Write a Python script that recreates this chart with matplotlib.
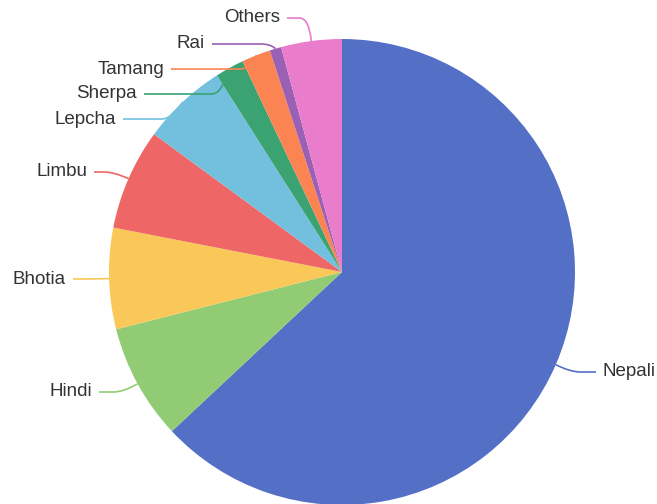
import numpy as np
import matplotlib
matplotlib.use("Agg")
import matplotlib.pyplot as plt
from matplotlib.path import Path
from matplotlib.patches import PathPatch

# share of speakers (%)
languages = ["Nepali", "Hindi", "Bhotia", "Limbu", "Lepcha", "Sherpa", "Tamang", "Rai", "Others"]
shares = [62.9, 8.0, 7.0, 7.0, 5.9, 2.0, 2.0, 0.8, 4.2]
colors = ["#5470c6", "#91cc75", "#fac858", "#ee6666", "#73c0de",
          "#3ba272", "#fc8452", "#9a60b4", "#ea7ccc"]

# label layout after echarts-style overlap shifting (pixels, y from the top)
label_rows = [372, 392, 279, 172, 119, 94, 69, 44, 18]
label_cols = [603, 92, 66, 87, 116, 137, 164, 205, 280]

W, H = 657, 504
cx, cy, R = 342, 232, 233

plt.rcParams['font.family'] = ['Liberation Sans', 'DejaVu Sans']

fig = plt.figure(figsize=(W / 100, H / 100), dpi=100)
ax = fig.add_axes([0, 0, 1, 1])

wedges, _ = ax.pie(shares, colors=colors, startangle=90, counterclock=False,
                   center=(cx, cy), radius=R, frame=True)
ax.set_xlim(0, W)
ax.set_ylim(0, H)
ax.set_aspect('equal')
ax.axis('off')

len1, gap = 16, 7
for w, name, col, row, tx in zip(wedges, languages, colors, label_rows, label_cols):
    mid = np.deg2rad((w.theta1 + w.theta2) / 2)
    ly = H - row
    x0, y0 = cx + R * np.cos(mid), cy + R * np.sin(mid)
    x1 = cx + (R + len1) * np.cos(mid)
    right = np.cos(mid) >= 0
    sgn = 1 if right else -1
    xe = tx - gap * sgn
    path = Path([(x0, y0), (x1, ly), (x1 + 10 * sgn, ly), (xe, ly)],
                [Path.MOVETO, Path.CURVE3, Path.CURVE3, Path.LINETO])
    ax.add_patch(PathPatch(path, fc='none', ec=col, lw=1.2))
    ax.text(tx, ly, name, ha='left' if right else 'right',
            va='center', fontsize=13.5, color='#333333')

fig.savefig("out.png", dpi=100)
